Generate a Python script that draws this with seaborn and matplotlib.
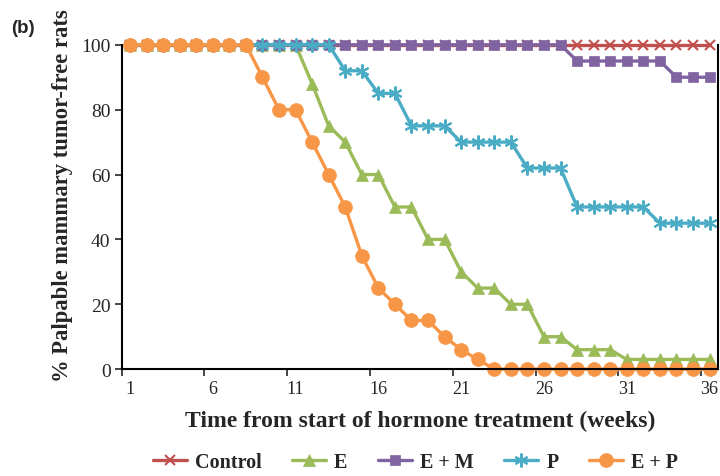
import matplotlib
matplotlib.use("Agg")
import matplotlib.pyplot as plt
import seaborn as sns
import pandas as pd

# weeks since start of hormone treatment
weeks = list(range(1, 37))

# % palpable mammary tumor-free rats
control = [100] * 36
e_only = [100, 100, 100, 100, 100, 100, 100, 100, 100, 100, 100, 88,
          75, 70, 60, 60, 50, 50, 40, 40, 30, 25, 25, 20,
          20, 10, 10, 6, 6, 6, 3, 3, 3, 3, 3, 3]
e_m = [100] * 27 + [95, 95, 95, 95, 95, 95, 90, 90, 90]
p_only = [100] * 13 + [92, 92, 85, 85, 75, 75, 75, 70, 70, 70, 70,
                       62, 62, 62, 50, 50, 50, 50, 50, 45, 45, 45, 45]
e_p = [100, 100, 100, 100, 100, 100, 100, 100, 90, 80, 80, 70,
       60, 50, 35, 25, 20, 15, 15, 10, 6, 3] + [0] * 14

series_names = ["Control", "E", "E + M", "P", "E + P"]
series_values = [control, e_only, e_m, p_only, e_p]

colors = ["#C0504D", "#9BBB59", "#8064A2", "#4BACC6", "#F79646"]
markers = ["x", "^", "s", (6, 2, 0), "o"]
msizes = [7, 9, 7, 10, 10]

df = pd.concat(
    [pd.DataFrame({"week": weeks, "pct": v, "group": n}) for n, v in zip(series_names, series_values)],
    ignore_index=True,
)

sns.set_style("white")
plt.rcParams["font.family"] = ["Liberation Serif", "DejaVu Serif"]

fig = plt.figure(figsize=(7.2, 4.77), dpi=100)
ax = fig.add_axes([0.169, 0.224, 0.828, 0.680])

for name, col, mk, ms in zip(series_names, colors, markers, msizes):
    sub = df[df["group"] == name]
    sns.lineplot(data=sub, x="week", y="pct", ax=ax, color=col, marker=mk,
                 markersize=ms, linewidth=2.4, label=name, clip_on=False,
                 markeredgecolor=col, markeredgewidth=1.5 if mk in ("x", (6, 2, 0)) else 0.5)

ax.set_xlim(0.5, 36.5)
ax.set_ylim(0, 100)
ax.set_xticks(range(1, 37, 5))
ax.set_xticks([x + 0.5 for x in range(0, 36, 5)], minor=True)
ax.tick_params(axis="x", which="major", length=0, labelsize=13, pad=8)
ax.tick_params(axis="x", which="minor", length=5, width=1.2, direction="out", bottom=True)
ax.set_yticks(range(0, 101, 20))
ax.tick_params(axis="y", length=5, width=1.2, direction="out", left=True, labelsize=14, pad=3)

for side in ["left", "bottom", "right"]:
    ax.spines[side].set_color("black")
    ax.spines[side].set_linewidth(1.5)
ax.spines["top"].set_visible(False)

ax.set_xlabel("Time from start of hormone treatment (weeks)", fontsize=17,
              fontweight="bold", labelpad=9)
ax.set_ylabel("% Palpable mammary tumor-free rats", fontsize=16.3,
              fontweight="bold")
ax.yaxis.set_label_coords(-0.081, 0.537)

ax.legend(loc="center", bbox_to_anchor=(0.4925, -0.287), ncol=5, frameon=False,
          prop={"weight": "bold", "size": 14.5}, handlelength=1.7, columnspacing=1.5,
          handletextpad=0.4)

fig.text(0.015, 0.931, "(b)", fontsize=13.5, fontweight="bold", family="Liberation Sans",
         va="baseline")

fig.savefig("out.png", dpi=100)
